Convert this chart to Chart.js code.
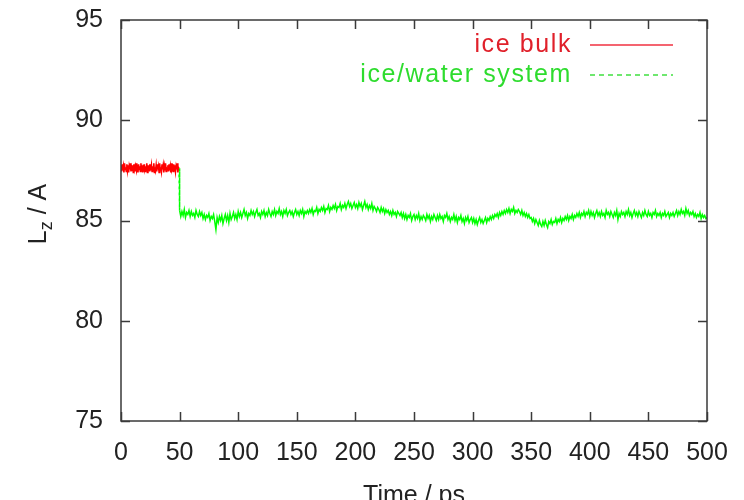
<!DOCTYPE html>
<html>
<head>
<meta charset="utf-8">
<script src="https://cdn.jsdelivr.net/npm/chart.js@4.4.1/dist/chart.umd.min.js"></script>
<style>
  html, body { margin: 0; padding: 0; background: #fff; }
  #wrap { width: 744px; height: 500px; }
</style>
</head>
<body>
<div id="wrap"><canvas id="lzChart" width="744" height="500"></canvas></div>
<script>
// ice bulk: Lz every 0.5 ps from 0 to 49.5 ps
const bulkStart = 0;
const bulkStep = 0.5;
const bulkLz = [
  87.75, 87.45, 87.80, 87.50, 87.70, 87.40, 87.85, 87.55, 87.65, 87.45,
  87.80, 87.50, 87.75, 87.40, 87.70, 87.55, 87.85, 87.45, 87.65, 87.50,
  87.75, 87.40, 87.80, 87.55, 87.70, 87.45, 87.85, 87.50, 87.60, 87.40,
  87.80, 87.55, 87.70, 87.45, 87.85, 87.50, 87.75, 87.40, 87.65, 87.55,
  87.80, 87.45, 87.70, 87.50, 87.85, 87.40, 87.75, 87.55, 87.65, 87.45,
  87.80, 87.50, 87.75, 87.45, 87.70, 87.55, 87.85, 87.40, 87.65, 87.50,
  87.75, 87.45, 87.80, 87.55, 87.70, 87.40, 87.85, 87.50, 87.65, 87.45,
  87.80, 87.55, 87.75, 87.40, 87.70, 87.50, 87.85, 87.45, 87.60, 87.55,
  87.75, 87.45, 87.80, 87.50, 87.70, 87.40, 87.85, 87.55, 87.65, 87.45,
  87.80, 87.50, 87.75, 87.45, 87.70, 87.55, 87.85, 87.40, 87.65, 87.60
];

// ice/water system: joins the bulk run at 49.5 ps, then every 1 ps from 50 to 500 ps
const systemFirstTime = 49.5;
const systemFirstLz = 87.60;
const systemStart = 50;
const systemStep = 1;
const systemLz = [
  85.50, 85.20, 85.45, 85.25, 85.55, 85.15, 85.40, 85.30, 85.50, 85.20,
  85.45, 85.25, 85.35, 85.15, 85.50, 85.30, 85.20, 85.45, 85.25, 85.40,
  85.10, 85.30, 85.05, 85.25, 85.15, 85.35, 85.00, 85.20, 85.10, 85.30,
  84.95, 84.55, 85.15, 84.90, 85.20, 85.00, 85.25, 84.85, 85.10, 85.30,
  85.00, 85.25, 84.90, 85.35, 85.05, 85.20, 85.40, 85.10, 85.30, 85.05,
  85.45, 85.20, 85.40, 85.15, 85.35, 85.55, 85.25, 85.40, 85.10, 85.35,
  85.25, 85.50, 85.30, 85.45, 85.20, 85.40, 85.55, 85.25, 85.35, 85.15,
  85.45, 85.30, 85.50, 85.20, 85.40, 85.25, 85.55, 85.35, 85.20, 85.45,
  85.30, 85.55, 85.25, 85.45, 85.35, 85.60, 85.30, 85.45, 85.20, 85.50,
  85.35, 85.55, 85.25, 85.40, 85.50, 85.30, 85.45, 85.20, 85.40, 85.55,
  85.30, 85.45, 85.25, 85.50, 85.35, 85.55, 85.20, 85.45, 85.35, 85.50,
  85.35, 85.55, 85.40, 85.60, 85.30, 85.50, 85.45, 85.65, 85.35, 85.55,
  85.45, 85.65, 85.50, 85.70, 85.40, 85.60, 85.55, 85.75, 85.45, 85.65,
  85.55, 85.75, 85.60, 85.80, 85.50, 85.70, 85.65, 85.85, 85.55, 85.75,
  85.65, 85.85, 85.60, 85.80, 85.95, 85.70, 85.85, 85.60, 85.75, 85.90,
  85.65, 85.80, 85.60, 85.90, 85.70, 85.85, 85.55, 85.75, 85.95, 85.65,
  85.80, 85.55, 85.75, 85.60, 85.85, 85.50, 85.70, 85.60, 85.45, 85.65,
  85.55, 85.40, 85.65, 85.45, 85.60, 85.35, 85.55, 85.40, 85.50, 85.30,
  85.45, 85.25, 85.50, 85.30, 85.40, 85.20, 85.45, 85.35, 85.25, 85.40,
  85.15, 85.35, 85.10, 85.30, 85.05, 85.25, 85.15, 85.35, 85.00, 85.20,
  85.30, 85.05, 85.25, 85.10, 85.35, 85.00, 85.20, 85.05, 85.25, 85.15,
  85.00, 85.30, 85.10, 85.25, 84.95, 85.20, 85.05, 85.30, 85.15, 85.00,
  85.25, 85.05, 85.30, 85.10, 85.20, 84.95, 85.25, 85.15, 85.35, 85.05,
  85.20, 84.95, 85.15, 85.05, 85.30, 85.00, 85.20, 84.90, 85.15, 85.05,
  85.25, 84.95, 85.10, 84.85, 85.15, 85.00, 85.20, 84.90, 85.05, 85.15,
  84.90, 85.10, 84.85, 85.05, 84.80, 85.00, 85.15, 84.90, 85.05, 84.85,
  85.00, 85.15, 84.90, 85.10, 85.00, 85.20, 85.05, 85.25, 85.10, 85.30,
  85.20, 85.35, 85.15, 85.40, 85.25, 85.45, 85.30, 85.50, 85.35, 85.55,
  85.40, 85.60, 85.35, 85.55, 85.45, 85.65, 85.35, 85.50, 85.40, 85.55,
  85.45, 85.30, 85.50, 85.25, 85.40, 85.20, 85.35, 85.15, 85.30, 85.10,
  85.15, 84.95, 85.10, 84.85, 85.05, 84.90, 84.75, 85.00, 84.80, 84.70,
  84.95, 84.75, 85.00, 84.80, 84.65, 84.95, 84.85, 85.05, 84.80, 84.95,
  84.90, 85.10, 84.85, 85.05, 84.95, 85.15, 84.90, 85.10, 85.00, 85.20,
  85.05, 85.25, 85.00, 85.20, 85.10, 85.30, 85.05, 85.25, 85.15, 85.35,
  85.20, 85.40, 85.15, 85.35, 85.25, 85.45, 85.20, 85.40, 85.30, 85.50,
  85.20, 85.45, 85.25, 85.40, 85.15, 85.35, 85.50, 85.25, 85.40, 85.20,
  85.45, 85.25, 85.35, 85.15, 85.50, 85.30, 85.40, 85.20, 85.45, 85.30,
  85.15, 85.40, 85.25, 85.50, 85.05, 85.35, 85.20, 85.45, 85.30, 85.40,
  85.20, 85.45, 85.30, 85.55, 85.25, 85.40, 85.15, 85.35, 85.50, 85.25,
  85.40, 85.20, 85.45, 85.30, 85.15, 85.40, 85.25, 85.50, 85.30, 85.20,
  85.45, 85.25, 85.35, 85.15, 85.40, 85.30, 85.50, 85.20, 85.35, 85.25,
  85.40, 85.15, 85.35, 85.25, 85.45, 85.20, 85.30, 85.40, 85.15, 85.35,
  85.25, 85.40, 85.20, 85.35, 85.50, 85.25, 85.45, 85.30, 85.55, 85.35,
  85.45, 85.25, 85.60, 85.35, 85.50, 85.25, 85.40, 85.30, 85.45, 85.20,
  85.35, 85.15, 85.30, 85.20, 85.40, 85.10, 85.30, 85.15, 85.25, 85.10,
  85.15
];

const xTicks = [0, 50, 100, 150, 200, 250, 300, 350, 400, 450, 500];
const yTicks = [75, 80, 85, 90, 95];
const seriesNames = ['ice bulk', 'ice/water system'];

const FONT = '"Liberation Sans", Arial, sans-serif';
const RED = '#ff0000';
const GREEN = '#00ff00';

const bulkPoints = bulkLz.map((v, i) => ({ x: bulkStart + i * bulkStep, y: v }));
const systemPoints = [{ x: systemFirstTime, y: systemFirstLz }]
  .concat(systemLz.map((v, i) => ({ x: systemStart + i * systemStep, y: v })));

// gnuplot style frame: box, inward ticks on all sides, key, axis titles
const framePlugin = {
  id: 'frame',
  afterDatasetsDraw(chart) {
    const ctx = chart.ctx;
    const a = chart.chartArea;
    const xs = chart.scales.x;
    const ys = chart.scales.y;
    const tl = 9;

    ctx.save();
    ctx.strokeStyle = '#3a3a3a';
    ctx.lineWidth = 1.5;
    ctx.strokeRect(a.left, a.top, a.right - a.left, a.bottom - a.top);

    ctx.beginPath();
    xTicks.forEach(t => {
      const px = Math.round(xs.getPixelForValue(t)) + 0.5;
      ctx.moveTo(px, a.bottom); ctx.lineTo(px, a.bottom - tl);
      ctx.moveTo(px, a.top); ctx.lineTo(px, a.top + tl);
    });
    yTicks.forEach(t => {
      const py = Math.round(ys.getPixelForValue(t)) + 0.5;
      ctx.moveTo(a.left, py); ctx.lineTo(a.left + tl, py);
      ctx.moveTo(a.right, py); ctx.lineTo(a.right - tl, py);
    });
    ctx.stroke();

    // key
    ctx.font = '25px ' + FONT;
    ctx.textAlign = 'right';
    ctx.textBaseline = 'middle';
    if ('letterSpacing' in ctx) ctx.letterSpacing = '1.6px';
    ctx.fillStyle = '#e0202a';
    ctx.fillText(seriesNames[0], 572, 45);
    ctx.fillStyle = '#2edc2e';
    ctx.fillText(seriesNames[1], 572, 75);
    if ('letterSpacing' in ctx) ctx.letterSpacing = '0px';

    ctx.lineWidth = 1.5;
    ctx.strokeStyle = '#f03040';
    ctx.beginPath(); ctx.moveTo(590, 45); ctx.lineTo(673, 45); ctx.stroke();
    ctx.strokeStyle = '#40e040';
    ctx.setLineDash([5, 4]);
    ctx.beginPath(); ctx.moveTo(590, 75); ctx.lineTo(673, 75); ctx.stroke();
    ctx.setLineDash([]);

    // x title (cut off by the bottom edge like the original)
    ctx.fillStyle = '#222';
    ctx.textAlign = 'center';
    ctx.textBaseline = 'alphabetic';
    ctx.fillText('Time / ps', 414, 503);

    // y title: L_z / A
    ctx.translate(46, 214);
    ctx.rotate(-Math.PI / 2);
    ctx.textAlign = 'left';
    const wL = ctx.measureText('L').width;
    ctx.font = '18px ' + FONT;
    const wZ = ctx.measureText('z').width;
    ctx.font = '25px ' + FONT;
    const wRest = ctx.measureText(' / A').width;
    const x0 = -(wL + wZ + wRest) / 2;
    ctx.fillText('L', x0, 0);
    ctx.font = '18px ' + FONT;
    ctx.fillText('z', x0 + wL, 6);
    ctx.font = '25px ' + FONT;
    ctx.fillText(' / A', x0 + wL + wZ, 0);
    ctx.restore();
  }
};

new Chart(document.getElementById('lzChart'), {
  type: 'line',
  data: {
    datasets: [
      {
        label: seriesNames[0],
        data: bulkPoints,
        borderColor: RED,
        borderWidth: 1.6,
        pointRadius: 0,
        tension: 0
      },
      {
        label: seriesNames[1],
        data: systemPoints,
        borderColor: GREEN,
        borderWidth: 1.5,
        pointRadius: 0,
        tension: 0,
        segment: {
          borderDash: c => Math.abs(c.p1.parsed.y - c.p0.parsed.y) > 1 ? [3, 3] : undefined
        }
      }
    ]
  },
  options: {
    responsive: false,
    animation: false,
    layout: { padding: { top: 20, right: 37, left: 0, bottom: 0 } },
    plugins: {
      legend: { display: false },
      tooltip: { enabled: false }
    },
    scales: {
      x: {
        type: 'linear',
        min: 0,
        max: 500,
        afterBuildTicks: s => { s.ticks = xTicks.map(v => ({ value: v })); },
        afterFit: s => { s.height = 79; s.paddingLeft = 0; s.paddingRight = 0; },
        grid: { display: false, drawTicks: false },
        border: { display: false },
        ticks: {
          autoSkip: false,
          maxRotation: 0,
          padding: 17,
          color: '#222',
          font: { family: FONT, size: 25 }
        }
      },
      y: {
        min: 75,
        max: 95,
        afterBuildTicks: s => { s.ticks = yTicks.map(v => ({ value: v })); },
        afterFit: s => { s.width = 121; s.paddingTop = 0; s.paddingBottom = 0; },
        grid: { display: false, drawTicks: false },
        border: { display: false },
        ticks: {
          padding: 18,
          color: '#222',
          font: { family: FONT, size: 25 }
        }
      }
    }
  },
  plugins: [framePlugin]
});
</script>
</body>
</html>
